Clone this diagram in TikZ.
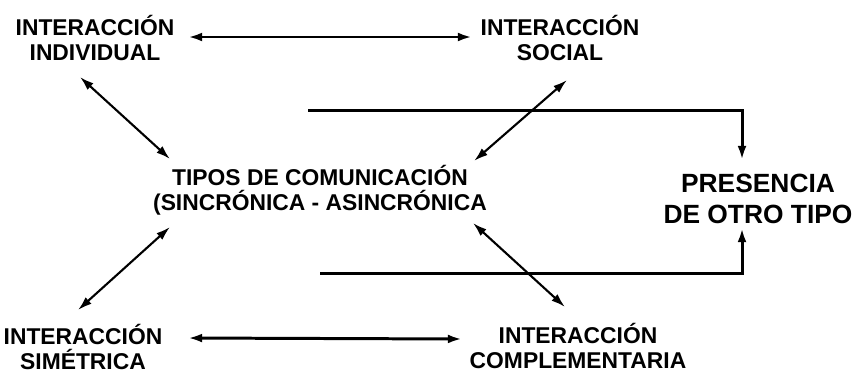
\documentclass[tikz,border=0pt]{standalone}
\usepackage{fontspec}
\setmainfont{Liberation Sans}
\usetikzlibrary{arrows.meta,calc}
\tikzset{
  lbl/.style={font=\bfseries\fontsize{13}{14.2}\selectfont, align=center, inner sep=0pt},
  big/.style={font=\bfseries\fontsize{15}{17.6}\selectfont, align=center, inner sep=0pt},
  tipo/.tip={Latex[length=8pt,width=5pt]},
  arr/.style={line width=1.2pt, -{tipo}},
  darr/.style={line width=1.2pt, {tipo}-{tipo}},
  hline/.style={line width=1.7pt}
}
\begin{document}
\begin{tikzpicture}[x={(0.02cm,0)}, y={(0,-0.02cm)}]
\useasboundingbox (0,0) rectangle (861,373);
\node[lbl] (ind) at (95,38) {INTERACCIÓN\\INDIVIDUAL};
\node[lbl] (soc) at (560,38) {INTERACCIÓN\\SOCIAL};
\node[lbl] (tip) at (320,190) {TIPOS DE COMUNICACIÓN\\(SINCRÓNICA - ASINCRÓNICA};
\node[big] (pres) at (758,199) {PRESENCIA\\DE OTRO TIPO};
\node[lbl] (sim) at (83,347) {INTERACCIÓN\\SIMÉTRICA};
\node[lbl] (comp) at (578,346) {INTERACCIÓN\\COMPLEMENTARIA};

\draw[darr,hline] ($(ind)+(93,-1)$) -- ($(soc)+(-88,-1)$);
\draw[darr] ($(ind)+(-15,39)$) -- ($(tip)+(-150,-31)$);
\draw[darr] ($(soc)+(7,42)$) -- ($(tip)+(154,-29)$);
\draw[arr,hline] ($(tip)+(-12,-80)$) -| ($(pres)+(-16,-39)$);
\draw[arr,hline] ($(tip)+(0,83)$) -| ($(pres)+(-16,29)$);
\draw[darr] ($(sim)+(-5,-37)$) -- ($(tip)+(-150,37)$);
\draw[darr,hline] ($(sim)+(105,-9)$) -- ($(comp)+(-116,-7)$);
\draw[darr] ($(tip)+(153,33)$) -- ($(comp)+(-13,-39)$);
\end{tikzpicture}
\end{document}
